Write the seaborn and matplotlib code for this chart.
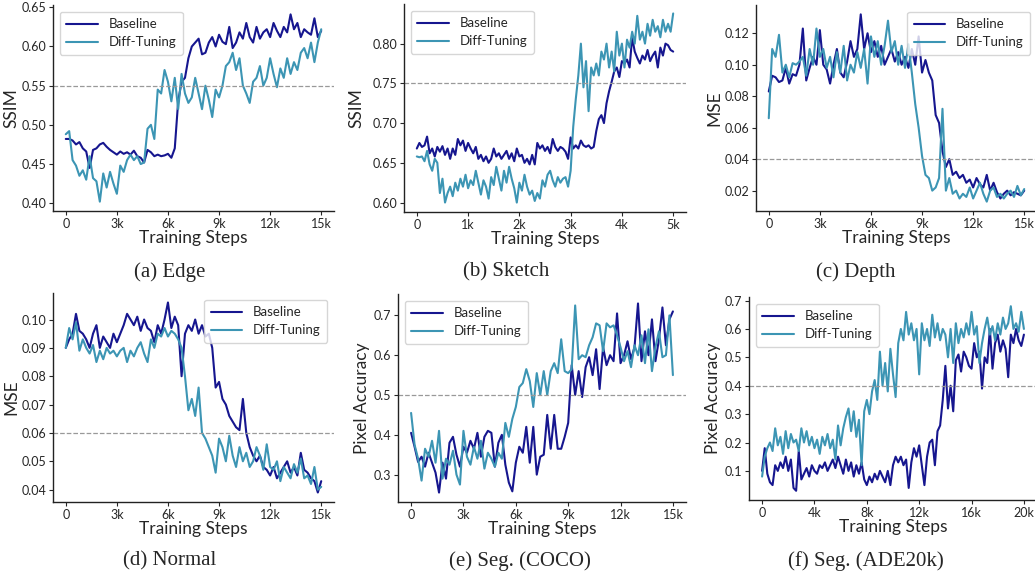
import numpy as np
import matplotlib
matplotlib.use("Agg")
import matplotlib.pyplot as plt
import seaborn as sns
from matplotlib.ticker import FuncFormatter

# --- data -------------------------------------------------------------------
steps_15k = np.arange(76) * 200
steps_5k = np.arange(101) * 50
steps_20k = np.arange(101) * 200

edge_base = [0.482, 0.482, 0.480, 0.475, 0.478, 0.470, 0.466, 0.445, 0.468, 0.470,
             0.475, 0.477, 0.472, 0.468, 0.465, 0.462, 0.466, 0.463, 0.465, 0.462,
             0.467, 0.460, 0.458, 0.452, 0.468, 0.465, 0.460, 0.462, 0.460, 0.461,
             0.463, 0.458, 0.470, 0.530, 0.555, 0.560, 0.585, 0.600, 0.605, 0.610,
             0.590, 0.592, 0.605, 0.612, 0.600, 0.615, 0.606, 0.603, 0.625, 0.598,
             0.605, 0.618, 0.610, 0.630, 0.612, 0.605, 0.625, 0.610, 0.618, 0.622,
             0.612, 0.630, 0.620, 0.612, 0.625, 0.618, 0.641, 0.622, 0.630, 0.612,
             0.622, 0.618, 0.615, 0.636, 0.612, 0.620]
edge_diff = [0.488, 0.492, 0.455, 0.448, 0.435, 0.442, 0.430, 0.460, 0.432, 0.428,
             0.402, 0.438, 0.420, 0.440, 0.425, 0.412, 0.448, 0.440, 0.455, 0.462,
             0.455, 0.460, 0.450, 0.452, 0.495, 0.500, 0.482, 0.545, 0.540, 0.570,
             0.555, 0.530, 0.560, 0.520, 0.565, 0.540, 0.528, 0.535, 0.560, 0.540,
             0.520, 0.550, 0.532, 0.510, 0.545, 0.535, 0.550, 0.575, 0.580, 0.592,
             0.570, 0.585, 0.550, 0.540, 0.528, 0.555, 0.560, 0.575, 0.550, 0.560,
             0.585, 0.565, 0.548, 0.572, 0.560, 0.585, 0.565, 0.580, 0.570, 0.592,
             0.598, 0.585, 0.605, 0.580, 0.605, 0.622]

sketch_base = [0.668, 0.675, 0.670, 0.672, 0.683, 0.662, 0.668, 0.658, 0.670, 0.664,
               0.671, 0.660, 0.668, 0.655, 0.668, 0.660, 0.680, 0.672, 0.678, 0.665,
               0.675, 0.668, 0.662, 0.670, 0.655, 0.660, 0.652, 0.658, 0.650, 0.655,
               0.668, 0.658, 0.662, 0.655, 0.660, 0.665, 0.655, 0.662, 0.652, 0.668,
               0.658, 0.660, 0.650, 0.655, 0.648, 0.660, 0.648, 0.675, 0.668, 0.672,
               0.665, 0.670, 0.662, 0.680, 0.670, 0.665, 0.670, 0.668, 0.664, 0.655,
               0.682, 0.668, 0.672, 0.668, 0.678, 0.672, 0.670, 0.672, 0.668, 0.670,
               0.690, 0.705, 0.710, 0.700, 0.725, 0.740, 0.752, 0.765, 0.770, 0.758,
               0.778, 0.775, 0.780, 0.770, 0.808, 0.790, 0.782, 0.775, 0.785, 0.780,
               0.792, 0.778, 0.785, 0.790, 0.770, 0.795, 0.785, 0.800, 0.798, 0.792,
               0.790]
sketch_diff = [0.658, 0.657, 0.658, 0.652, 0.665, 0.648, 0.640, 0.655, 0.650, 0.612,
               0.630, 0.600, 0.612, 0.620, 0.608, 0.625, 0.615, 0.630, 0.620, 0.635,
               0.618, 0.628, 0.622, 0.640, 0.625, 0.610, 0.628, 0.620, 0.605, 0.632,
               0.622, 0.645, 0.630, 0.615, 0.640, 0.625, 0.645, 0.630, 0.618, 0.600,
               0.625, 0.615, 0.635, 0.620, 0.610, 0.615, 0.602, 0.612, 0.605, 0.628,
               0.620, 0.635, 0.640, 0.628, 0.620, 0.632, 0.625, 0.630, 0.632, 0.620,
               0.640, 0.695, 0.730, 0.760, 0.800, 0.745, 0.778, 0.715, 0.770, 0.760,
               0.775, 0.760, 0.790, 0.780, 0.800, 0.770, 0.790, 0.765, 0.815, 0.785,
               0.800, 0.770, 0.805, 0.795, 0.815, 0.800, 0.835, 0.805, 0.815, 0.800,
               0.825, 0.810, 0.830, 0.815, 0.822, 0.808, 0.830, 0.815, 0.825, 0.815,
               0.838]

depth_base = [0.083, 0.093, 0.092, 0.089, 0.090, 0.098, 0.088, 0.094, 0.093, 0.100,
              0.123, 0.090, 0.098, 0.105, 0.100, 0.122, 0.100, 0.097, 0.088, 0.100,
              0.110, 0.095, 0.092, 0.102, 0.115, 0.105, 0.110, 0.132, 0.110, 0.120,
              0.108, 0.115, 0.105, 0.112, 0.100, 0.105, 0.110, 0.102, 0.108, 0.100,
              0.105, 0.098, 0.110, 0.100, 0.118, 0.095, 0.103, 0.095, 0.090, 0.068,
              0.063, 0.045, 0.035, 0.040, 0.030, 0.032, 0.028, 0.030, 0.025, 0.027,
              0.022, 0.028, 0.024, 0.022, 0.030, 0.020, 0.025, 0.019, 0.015, 0.018,
              0.020, 0.017, 0.019, 0.018, 0.017, 0.020]
depth_diff = [0.066, 0.110, 0.105, 0.119, 0.095, 0.100, 0.092, 0.101, 0.100, 0.102,
              0.105, 0.093, 0.110, 0.100, 0.123, 0.105, 0.110, 0.098, 0.105, 0.092,
              0.108, 0.095, 0.112, 0.090, 0.100, 0.095, 0.108, 0.098, 0.110, 0.088,
              0.118, 0.105, 0.115, 0.100, 0.112, 0.128, 0.108, 0.115, 0.100, 0.112,
              0.098, 0.113, 0.095, 0.075, 0.060, 0.042, 0.030, 0.028, 0.020, 0.022,
              0.028, 0.072, 0.020, 0.028, 0.018, 0.020, 0.015, 0.018, 0.016, 0.022,
              0.015, 0.020, 0.025, 0.018, 0.013, 0.020, 0.022, 0.016, 0.018, 0.015,
              0.018, 0.020, 0.016, 0.023, 0.017, 0.021]

normal_base = [0.090, 0.093, 0.095, 0.102, 0.096, 0.095, 0.093, 0.090, 0.095, 0.098,
               0.090, 0.094, 0.092, 0.090, 0.095, 0.092, 0.095, 0.098, 0.102, 0.100,
               0.098, 0.101, 0.096, 0.100, 0.097, 0.096, 0.092, 0.098, 0.095, 0.100,
               0.106, 0.097, 0.101, 0.098, 0.080, 0.095, 0.098, 0.096, 0.100, 0.095,
               0.098, 0.094, 0.095, 0.090, 0.076, 0.078, 0.072, 0.070, 0.066, 0.064,
               0.062, 0.061, 0.072, 0.060, 0.055, 0.052, 0.050, 0.052, 0.048, 0.047,
               0.045, 0.048, 0.044, 0.046, 0.048, 0.050, 0.046, 0.048, 0.045, 0.053,
               0.047, 0.046, 0.044, 0.043, 0.039, 0.043]
normal_diff = [0.090, 0.097, 0.093, 0.099, 0.089, 0.093, 0.090, 0.088, 0.091, 0.085,
               0.089, 0.086, 0.090, 0.088, 0.089, 0.087, 0.089, 0.090, 0.085, 0.089,
               0.087, 0.090, 0.092, 0.088, 0.085, 0.093, 0.090, 0.095, 0.094, 0.097,
               0.094, 0.096, 0.095, 0.093, 0.090, 0.080, 0.068, 0.072, 0.066, 0.076,
               0.060, 0.058, 0.055, 0.052, 0.046, 0.058, 0.055, 0.050, 0.059, 0.052,
               0.048, 0.055, 0.050, 0.053, 0.048, 0.050, 0.055, 0.052, 0.047, 0.056,
               0.048, 0.047, 0.050, 0.043, 0.048, 0.046, 0.044, 0.049, 0.046, 0.051,
               0.044, 0.045, 0.042, 0.048, 0.040, 0.041]

coco_base = [0.405, 0.370, 0.332, 0.345, 0.320, 0.355, 0.330, 0.305, 0.255, 0.330,
             0.290, 0.380, 0.395, 0.350, 0.320, 0.370, 0.355, 0.385, 0.365, 0.405,
             0.345, 0.395, 0.410, 0.405, 0.320, 0.380, 0.400, 0.325, 0.280, 0.258,
             0.330, 0.370, 0.355, 0.420, 0.330, 0.420, 0.300, 0.345, 0.350, 0.450,
             0.365, 0.450, 0.365, 0.365, 0.395, 0.430, 0.575, 0.500, 0.560, 0.495,
             0.570, 0.595, 0.550, 0.615, 0.515, 0.620, 0.575, 0.600, 0.585, 0.705,
             0.580, 0.600, 0.635, 0.590, 0.620, 0.730, 0.585, 0.660, 0.600, 0.690,
             0.585, 0.640, 0.720, 0.625, 0.690, 0.710]
coco_diff = [0.455, 0.375, 0.340, 0.285, 0.365, 0.345, 0.385, 0.330, 0.410, 0.290,
             0.340, 0.325, 0.360, 0.300, 0.275, 0.410, 0.345, 0.325, 0.370, 0.340,
             0.385, 0.315, 0.355, 0.340, 0.320, 0.355, 0.340, 0.430, 0.395, 0.440,
             0.470, 0.520, 0.530, 0.565, 0.535, 0.470, 0.555, 0.500, 0.560, 0.500,
             0.560, 0.580, 0.555, 0.640, 0.560, 0.555, 0.565, 0.725, 0.590, 0.600,
             0.595, 0.625, 0.645, 0.680, 0.675, 0.610, 0.680, 0.670, 0.675, 0.650,
             0.620, 0.585, 0.610, 0.570, 0.625, 0.600, 0.650, 0.580, 0.665, 0.560,
             0.620, 0.660, 0.595, 0.600, 0.700, 0.550]

ade_base = [0.10, 0.18, 0.09, 0.06, 0.05, 0.12, 0.10, 0.13, 0.11, 0.15,
            0.10, 0.14, 0.04, 0.03, 0.17, 0.07, 0.09, 0.11, 0.08, 0.12,
            0.10, 0.09, 0.12, 0.11, 0.13, 0.10, 0.12, 0.14, 0.11, 0.15,
            0.12, 0.09, 0.14, 0.10, 0.13, 0.08, 0.12, 0.09, 0.13, 0.07,
            0.05, 0.08, 0.06, 0.09, 0.07, 0.10, 0.08, 0.06, 0.10, 0.05,
            0.12, 0.15, 0.13, 0.15, 0.12, 0.14, 0.04, 0.13, 0.18, 0.15,
            0.19, 0.12, 0.05, 0.15, 0.20, 0.21, 0.12, 0.24, 0.26, 0.35,
            0.47, 0.32, 0.40, 0.31, 0.49, 0.51, 0.45, 0.52, 0.50, 0.47,
            0.46, 0.55, 0.50, 0.52, 0.39, 0.50, 0.48, 0.60, 0.46, 0.55,
            0.58, 0.52, 0.56, 0.53, 0.43, 0.58, 0.55, 0.60, 0.56, 0.54,
            0.58]
ade_diff = [0.08, 0.15, 0.18, 0.20, 0.17, 0.25, 0.19, 0.22, 0.16, 0.24,
            0.18, 0.23, 0.20, 0.21, 0.17, 0.25, 0.20, 0.24, 0.19, 0.22,
            0.18, 0.21, 0.16, 0.22, 0.19, 0.23, 0.18, 0.21, 0.14, 0.26,
            0.19, 0.25, 0.29, 0.32, 0.24, 0.31, 0.22, 0.28, 0.12, 0.31,
            0.35, 0.30, 0.38, 0.42, 0.35, 0.52, 0.40, 0.48, 0.38, 0.53,
            0.44, 0.36, 0.55, 0.60, 0.56, 0.66, 0.58, 0.62, 0.56, 0.60,
            0.44, 0.62, 0.56, 0.60, 0.54, 0.65, 0.57, 0.62, 0.56, 0.60,
            0.58, 0.50, 0.60, 0.48, 0.62, 0.55, 0.60, 0.57, 0.62, 0.58,
            0.66, 0.58, 0.61, 0.48, 0.55, 0.60, 0.64, 0.58, 0.61, 0.56,
            0.62, 0.58, 0.64, 0.60, 0.62, 0.68, 0.60, 0.62, 0.59, 0.66,
            0.60]

captions = ["(a) Edge", "(b) Sketch", "(c) Depth",
            "(d) Normal", "(e) Seg. (COCO)", "(f) Seg. (ADE20k)"]
ylabels = ["SSIM", "SSIM", "MSE", "MSE", "Pixel Accuracy", "Pixel Accuracy"]
thresholds = [0.55, 0.75, 0.04, 0.06, 0.5, 0.4]

# --- style ------------------------------------------------------------------
sns.set_style("ticks")
plt.rcParams["font.family"] = ["Lato", "DejaVu Sans"]
BASE_C = "#16168f"
DIFF_C = "#3c95b4"

W, H = 1035, 575
fig = plt.figure(figsize=(W / 100, H / 100), dpi=100)


def box(l, t, r, b):
    return [l / W, 1 - b / H, (r - l) / W, (b - t) / H]


boxes = [box(53, 5, 334, 211), box(404, 4, 686, 212), box(756, 5, 1037, 211),
         box(53, 293, 334, 502), box(398, 294, 686, 502), box(749, 297, 1037, 500)]
# distance (px) from the y spine to the inner edge of the y label
ylab_off = [34, 40, 34, 34, 28, 28]

panels = [
    (steps_15k, edge_base, edge_diff, np.arange(0.40, 0.651, 0.05), "%.2f", 3000, "upper left"),
    (steps_5k, sketch_base, sketch_diff, np.arange(0.60, 0.801, 0.05), "%.2f", 1000, "upper left"),
    (steps_15k, depth_base, depth_diff, np.arange(0.02, 0.121, 0.02), "%.2f", 3000, "upper right"),
    (steps_15k, normal_base, normal_diff, np.arange(0.04, 0.101, 0.01), "%.2f", 3000, "upper right"),
    (steps_15k, coco_base, coco_diff, np.arange(0.3, 0.71, 0.1), "%.1f", 3000, "upper left"),
    (steps_20k, ade_base, ade_diff, np.arange(0.1, 0.71, 0.1), "%.1f", 4000, "upper left"),
]

kfmt = FuncFormatter(lambda v, p: "0" if v == 0 else "%dk" % round(v / 1000))

for i, (x, yb, yd, yt, yf, xstep, loc) in enumerate(panels):
    ax = fig.add_axes(boxes[i])
    sns.lineplot(x=x, y=yb, ax=ax, color=BASE_C, lw=1.5, label="Baseline")
    sns.lineplot(x=x, y=yd, ax=ax, color=DIFF_C, lw=1.5, label="Diff-Tuning")
    ax.axhline(thresholds[i], color="#999999", ls="--", lw=0.9)
    ax.set_yticks(yt)
    ax.yaxis.set_major_formatter(FuncFormatter(lambda v, p, f=yf: f % v))
    ax.set_xticks(np.arange(0, x[-1] + 1, xstep))
    ax.xaxis.set_major_formatter(kfmt)
    ax.tick_params(labelsize=9, length=3, width=0.8, pad=2)
    ax.set_xlabel("Training Steps", fontsize=12.5, labelpad=0)
    ax.set_ylabel(ylabels[i], fontsize=12.5)
    ax.yaxis.set_label_coords(-ylab_off[i] / (boxes[i][2] * W), 0.5)
    ax.legend(loc=loc, fontsize=9.5, frameon=True, handlelength=2.4,
              borderpad=0.5, labelspacing=0.45)
    for s in ["left", "bottom"]:
        ax.spines[s].set_linewidth(1.0)
        ax.spines[s].set_color("#222222")
    sns.despine(ax=ax)

cap_pos = [(170, 272), (506, 272), (856, 272), (170, 561), (520, 561), (866, 561)]
for (cx, cy), txt in zip(cap_pos, captions):
    fig.text(cx / W, 1 - cy / H, txt, ha="center", va="center", fontsize=15,
             family=["Liberation Serif", "DejaVu Serif"])

fig.savefig("out.png", dpi=100)
